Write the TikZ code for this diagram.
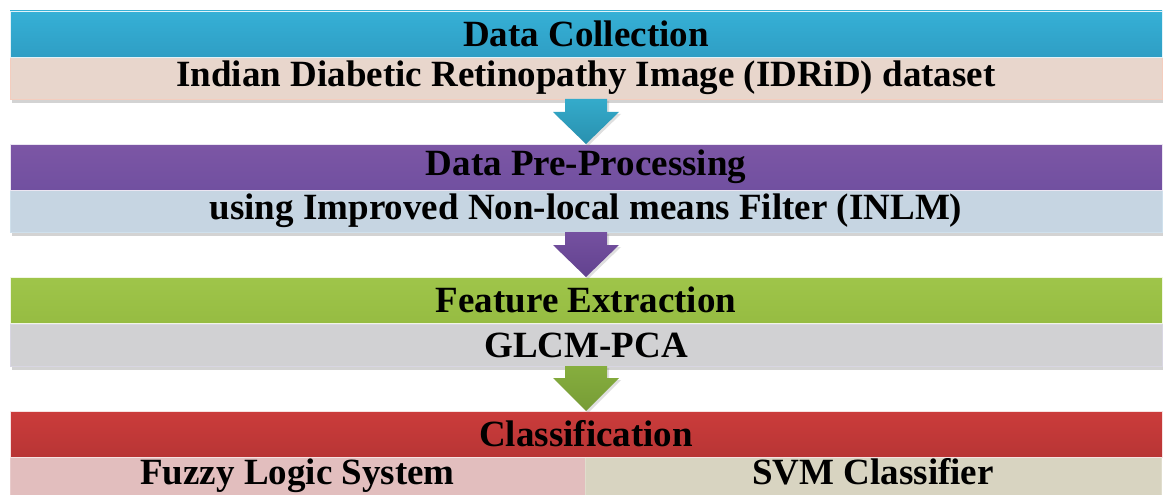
\documentclass[tikz,border=0pt]{standalone}
\usepackage{fontspec}
\setmainfont{Liberation Serif}
\usetikzlibrary{calc,shadows}
\definecolor{hblue}{HTML}{35B0D6}
\definecolor{hblueD}{HTML}{2F9EC4}
\definecolor{spea}{HTML}{E8D6CC}
\definecolor{speaB}{HTML}{F4CDBE}
\definecolor{hpur}{HTML}{7C56A5}
\definecolor{hpurD}{HTML}{7150A0}
\definecolor{sblu}{HTML}{C6D5E2}
\definecolor{sbluB}{HTML}{CFE0EC}
\definecolor{hgrn}{HTML}{9FC54A}
\definecolor{hgrnD}{HTML}{96BC42}
\definecolor{sgry}{HTML}{D1D1D3}
\definecolor{sgryB}{HTML}{D8D6E2}
\definecolor{hred}{HTML}{CB3C3B}
\definecolor{hredD}{HTML}{B83535}
\definecolor{spnk}{HTML}{E2BEBE}
\definecolor{sbei}{HTML}{D8D4C1}
\definecolor{aone}{HTML}{34ABCB}
\definecolor{aoneD}{HTML}{2990AE}
\definecolor{atwo}{HTML}{7551A0}
\definecolor{atwoD}{HTML}{62428F}
\definecolor{athr}{HTML}{86AE3E}
\definecolor{athrD}{HTML}{779C36}
\tikzset{
  txt/.style={font=\bfseries\fontsize{37}{40}\selectfont, text=black, inner sep=0pt, outer sep=0pt},
  head/.style={txt, anchor=north west, minimum width=1152pt, minimum height=46pt, draw=white!85!#1, line width=0.8pt},
  sub/.style={txt, anchor=north west, minimum width=1152pt, minimum height=42pt, line width=0.8pt,
     drop shadow={opacity=0.35, shadow xshift=2pt, shadow yshift=-4pt}},
  half/.style={txt, anchor=north west, minimum width=575pt, minimum height=39pt, line width=0.8pt,
     text height=25pt, text depth=7pt},
}
\begin{document}
\begin{tikzpicture}[x=1pt,y=-1pt]
\useasboundingbox (0,0) rectangle (1163,495);
% stage 1
\node[sub, fill=spea, draw=speaB] (s1) at (10,57) {Indian Diabetic Retinopathy Image (IDRiD) dataset};
\node[head=hblue, top color=hblue, bottom color=hblueD] (h1) at (10,11) {Data Collection};
% stage 2
\node[sub, fill=sblu, draw=sbluB] (s2) at (10,190) {using Improved Non-local means Filter (INLM)};
\node[head=hpur, top color=hpur, bottom color=hpurD] (h2) at (10,144) {Data Pre-Processing};
% stage 3
\node[sub, fill=sgry, draw=sgryB] (s3) at (10,324) {GLCM-PCA};
\node[head=hgrn, top color=hgrn, bottom color=hgrnD] (h3) at (10,277) {Feature Extraction};
% stage 4
\node[half, fill=spnk, draw=spnk!80!white] (s4a) at (10,456) {Fuzzy Logic System};
\node[half, fill=sbei, draw=sbei!80!white, minimum width=576pt] (s4b) at (585,456) {SVM Classifier};
\node[head=hred, top color=hred, bottom color=hredD] (h4) at (10,411) {Classification};
% arrows
\shade[top color=aone, bottom color=aoneD, drop shadow={opacity=0.25, shadow xshift=2pt, shadow yshift=-2pt}]
  ($(s1.south)+(-21,0)$) -- ($(s1.south)+(21,0)$) -- ($(s1.south)+(21,13)$) -- ($(s1.south)+(33,13)$)
  -- (h2.north) -- ($(s1.south)+(-33,13)$) -- ($(s1.south)+(-21,13)$) -- cycle;
\shade[top color=atwo, bottom color=atwoD, drop shadow={opacity=0.25, shadow xshift=2pt, shadow yshift=-2pt}]
  ($(s2.south)+(-21,0)$) -- ($(s2.south)+(21,0)$) -- ($(s2.south)+(21,13)$) -- ($(s2.south)+(33,13)$)
  -- (h3.north) -- ($(s2.south)+(-33,13)$) -- ($(s2.south)+(-21,13)$) -- cycle;
\shade[top color=athr, bottom color=athrD, drop shadow={opacity=0.25, shadow xshift=2pt, shadow yshift=-2pt}]
  ($(s3.south)+(-21,0)$) -- ($(s3.south)+(21,0)$) -- ($(s3.south)+(21,12)$) -- ($(s3.south)+(33,12)$)
  -- (h4.north) -- ($(s3.south)+(-33,12)$) -- ($(s3.south)+(-21,12)$) -- cycle;
\end{tikzpicture}
\end{document}
